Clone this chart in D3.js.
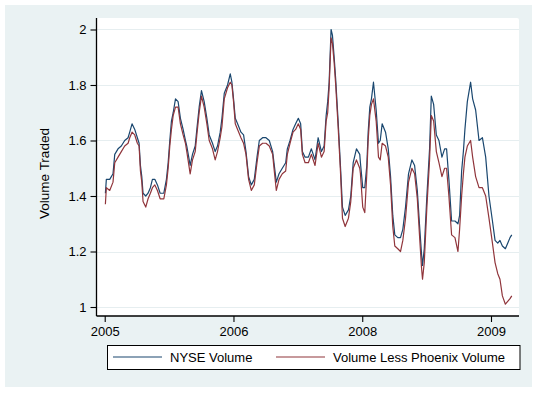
<!DOCTYPE html>
<html lang="en">
<head>
    <meta charset="UTF-8">
    <title>Volume Traded</title>
    <script src="https://d3js.org/d3.v7.min.js"></script>
    <style>
        body { margin: 0; background: #fff; }
        svg { display: block; font-family: Arial, "Liberation Sans", sans-serif; }
    </style>
</head>
<body>

    <svg width="537" height="393"></svg>

    <script>
        // time axis in fractional years
        const years = [
            2005.007, 2005.017, 2005.052, 2005.086, 2005.104, 2005.138, 2005.172, 2005.207, 2005.242, 2005.259,
            2005.283, 2005.311, 2005.338, 2005.356, 2005.370, 2005.384, 2005.397, 2005.425, 2005.449, 2005.473,
            2005.494, 2005.519, 2005.546, 2005.574, 2005.612, 2005.639, 2005.657, 2005.674, 2005.691, 2005.709,
            2005.733, 2005.760, 2005.784, 2005.812, 2005.836,
            2005.850, 2005.885, 2005.909, 2005.937, 2005.954, 2005.978, 2006.002, 2006.030, 2006.058, 2006.082,
            2006.116, 2006.144, 2006.168, 2006.196, 2006.214, 2006.238, 2006.272, 2006.300, 2006.317, 2006.334,
            2006.352, 2006.376, 2006.411, 2006.438, 2006.463, 2006.490, 2006.518, 2006.549, 2006.577, 2006.601,
            2006.635, 2006.670, 2006.704, 2006.739,
            2006.753, 2006.777, 2006.805, 2006.839, 2006.874, 2006.891, 2006.919, 2006.950, 2006.977, 2007.005,
            2007.029, 2007.047, 2007.075, 2007.109, 2007.140, 2007.178, 2007.210, 2007.244, 2007.272, 2007.293,
            2007.309, 2007.324, 2007.344, 2007.358, 2007.376, 2007.392, 2007.417, 2007.441, 2007.462, 2007.490,
            2007.524, 2007.548, 2007.573, 2007.607, 2007.641,
            2007.648, 2007.672, 2007.693, 2007.714, 2007.728, 2007.745, 2007.762, 2007.783, 2007.811, 2007.835,
            2007.853, 2007.873, 2007.908, 2007.936, 2007.960, 2007.983, 2008.004, 2008.035, 2008.063, 2008.087,
            2008.115, 2008.146, 2008.181, 2008.209, 2008.237, 2008.263, 2008.281, 2008.291, 2008.309, 2008.336,
            2008.364, 2008.382, 2008.406, 2008.434, 2008.461, 2008.492, 2008.520,
            2008.540, 2008.564, 2008.592, 2008.627, 2008.658, 2008.675, 2008.696, 2008.714, 2008.730, 2008.755,
            2008.789, 2008.810, 2008.841, 2008.876, 2008.911, 2008.945, 2008.979, 2009.015, 2009.042, 2009.070,
            2009.093, 2009.118, 2009.149, 2009.173, 2009.197, 2009.215
        ];

        const nyseVolume = [
            1.41, 1.46, 1.46, 1.48, 1.55, 1.57, 1.58, 1.60, 1.61, 1.63,
            1.66, 1.64, 1.61, 1.59, 1.51, 1.47, 1.41, 1.40, 1.41, 1.43,
            1.46, 1.46, 1.44, 1.41, 1.41, 1.46, 1.52, 1.60, 1.67, 1.70,
            1.75, 1.74, 1.68, 1.64, 1.60,
            1.58, 1.51, 1.55, 1.58, 1.64, 1.72, 1.78, 1.74, 1.68, 1.62,
            1.59, 1.56, 1.58, 1.63, 1.68, 1.77, 1.80, 1.84, 1.81, 1.75,
            1.68, 1.66, 1.63, 1.62, 1.56, 1.47, 1.44, 1.46, 1.54, 1.60,
            1.61, 1.61, 1.60, 1.56,
            1.52, 1.45, 1.48, 1.50, 1.52, 1.57, 1.60, 1.64, 1.66, 1.68,
            1.66, 1.56, 1.54, 1.54, 1.57, 1.53, 1.61, 1.56, 1.58, 1.69,
            1.74, 1.81, 2.00, 1.98, 1.90, 1.82, 1.67, 1.51, 1.36, 1.33,
            1.35, 1.40, 1.52, 1.57, 1.55,
            1.52, 1.43, 1.43, 1.51, 1.63, 1.72, 1.75, 1.81, 1.71, 1.59,
            1.60, 1.66, 1.63, 1.57, 1.47, 1.33, 1.26, 1.25, 1.25, 1.28,
            1.36, 1.48, 1.53, 1.51, 1.42, 1.28, 1.19, 1.15, 1.21, 1.40,
            1.57, 1.76, 1.73, 1.62, 1.60, 1.54, 1.57,
            1.57, 1.46, 1.31, 1.31, 1.30, 1.33, 1.49, 1.56, 1.64, 1.74,
            1.81, 1.75, 1.71, 1.60, 1.61, 1.54, 1.40, 1.31, 1.24, 1.23,
            1.24, 1.22, 1.21, 1.23, 1.25, 1.26
        ];

        const lessPhoenixVolume = [
            1.37, 1.43, 1.42, 1.45, 1.52, 1.54, 1.56, 1.58, 1.59, 1.61,
            1.63, 1.62, 1.59, 1.58, 1.49, 1.45, 1.38, 1.36, 1.39, 1.41,
            1.43, 1.44, 1.42, 1.39, 1.39, 1.44, 1.50, 1.58, 1.64, 1.69,
            1.72, 1.72, 1.66, 1.62, 1.59,
            1.56, 1.48, 1.53, 1.56, 1.62, 1.70, 1.76, 1.72, 1.66, 1.60,
            1.57, 1.53, 1.56, 1.61, 1.65, 1.75, 1.79, 1.81, 1.80, 1.74,
            1.66, 1.64, 1.61, 1.59, 1.55, 1.46, 1.42, 1.44, 1.52, 1.58,
            1.59, 1.59, 1.58, 1.55,
            1.50, 1.42, 1.46, 1.48, 1.49, 1.55, 1.59, 1.63, 1.64, 1.66,
            1.64, 1.55, 1.52, 1.52, 1.55, 1.51, 1.59, 1.54, 1.56, 1.67,
            1.70, 1.79, 1.97, 1.95, 1.88, 1.80, 1.65, 1.49, 1.32, 1.29,
            1.32, 1.38, 1.50, 1.53, 1.50,
            1.48, 1.36, 1.34, 1.48, 1.60, 1.69, 1.73, 1.75, 1.67, 1.54,
            1.53, 1.59, 1.58, 1.54, 1.44, 1.29, 1.22, 1.21, 1.20, 1.24,
            1.32, 1.45, 1.50, 1.48, 1.39, 1.24, 1.14, 1.10, 1.16, 1.36,
            1.53, 1.69, 1.67, 1.56, 1.52, 1.47, 1.50,
            1.50, 1.40, 1.26, 1.25, 1.20, 1.28, 1.40, 1.48, 1.54, 1.58,
            1.60, 1.54, 1.47, 1.43, 1.43, 1.40, 1.32, 1.23, 1.16, 1.12,
            1.10, 1.04, 1.01, 1.02, 1.03, 1.04
        ];

        const yTicks = [1, 1.2, 1.4, 1.6, 1.8, 2];
        // evenly spaced ticks, labels rounded to whole years
        const xTicks = [2005, 2006 + 1 / 3, 2007 + 2 / 3, 2009];
        const seriesNames = ["NYSE Volume", "Volume Less Phoenix Volume"];
        const colors = ["#1a476f", "#90353b"];

        const svg = d3.select("svg");
        const plot = {left: 96.5, right: 519, top: 18, bottom: 316};

        // graph region
        svg.append("rect")
            .attr("x", 5).attr("y", 5)
            .attr("width", 527).attr("height", 382)
            .attr("fill", "#eaf2f3");

        // plot region
        svg.append("rect")
            .attr("x", plot.left).attr("y", plot.top)
            .attr("width", plot.right - plot.left).attr("height", plot.bottom - plot.top)
            .attr("rx", 2)
            .attr("fill", "#fff");

        const x = d3.scaleLinear().domain([2004.915, 2009.29]).range([plot.left, plot.right]);
        const y = d3.scaleLinear().domain([0.9676, 2.0414]).range([plot.bottom, plot.top]);

        // gridlines
        svg.append("g")
            .selectAll("line")
            .data(yTicks)
            .join("line")
            .attr("x1", plot.left).attr("x2", plot.right)
            .attr("y1", d => Math.round(y(d)) + 0.5).attr("y2", d => Math.round(y(d)) + 0.5)
            .attr("stroke", "#e6eef0")
            .attr("stroke-width", 1.2);

        // lines
        const data = years.map((t, i) => ({t, a: nyseVolume[i], b: lessPhoenixVolume[i]}));
        [["a", colors[0]], ["b", colors[1]]].forEach(([k, c]) => {
            svg.append("path")
                .datum(data)
                .attr("fill", "none")
                .attr("stroke", c)
                .attr("stroke-width", 1.2)
                .attr("stroke-linejoin", "round")
                .attr("d", d3.line().x(d => x(d.t)).y(d => y(d[k])));
        });

        // axes
        const yAxis = svg.append("g")
            .attr("transform", `translate(${plot.left},0)`)
            .call(d3.axisLeft(y).tickValues(yTicks).tickSize(6).tickPadding(4).tickFormat(d3.format("~g")));
        const xAxis = svg.append("g")
            .attr("transform", `translate(0,${plot.bottom})`)
            .call(d3.axisBottom(x).tickValues(xTicks).tickSize(6).tickPadding(5).tickFormat(d => Math.round(d)));

        [yAxis, xAxis].forEach(a => {
            a.select(".domain").attr("stroke", "#000").attr("stroke-width", 1.3);
            a.selectAll(".tick line").attr("stroke", "#000").attr("stroke-width", 1.1);
            a.selectAll(".tick text").attr("fill", "#000").attr("font-size", 13);
        });
        yAxis.select(".domain").attr("d", `M0,${plot.top}V${plot.bottom}`);
        xAxis.select(".domain").attr("d", `M${plot.left},0H${plot.right}`);

        // axis title
        svg.append("text")
            .attr("transform", "translate(49,173.5) rotate(-90)")
            .attr("text-anchor", "middle")
            .attr("font-size", 13.5)
            .attr("fill", "#000")
            .text("Volume Traded");

        // legend
        const legend = svg.append("g");
        legend.append("rect")
            .attr("x", 107.5).attr("y", 345.5)
            .attr("width", 412.5).attr("height", 24)
            .attr("fill", "#fff")
            .attr("stroke", "#000")
            .attr("stroke-width", 1);

        const keyX = [113, 276];
        seriesNames.forEach((name, i) => {
            legend.append("line")
                .attr("x1", keyX[i]).attr("x2", keyX[i] + 49)
                .attr("y1", 357).attr("y2", 357)
                .attr("stroke", colors[i])
                .attr("stroke-width", 1.2);
            legend.append("text")
                .attr("x", keyX[i] + 57).attr("y", 362)
                .attr("font-size", 13)
                .attr("fill", "#000")
                .text(name);
        });
    </script>

</body>
</html>
